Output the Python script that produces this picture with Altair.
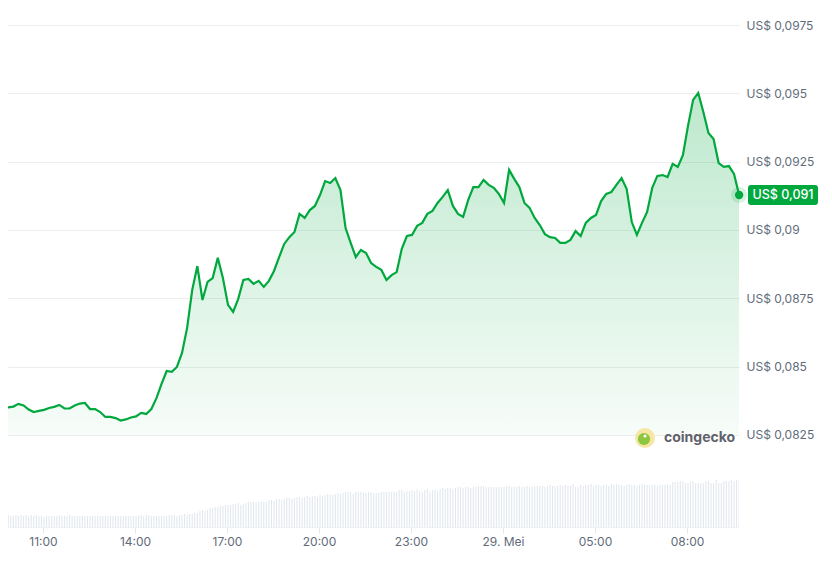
import altair as alt
import pandas as pd

# ---------------- data ----------------
# price every 10 minutes, starting 28 May 09:42
price_start = "2024-05-28 09:42"
price = [
    0.08356, 0.08351, 0.08354, 0.08364, 0.08358, 0.08343, 0.08334, 0.08338, 0.08342, 0.08349,
    0.08353, 0.08360, 0.08347, 0.08347, 0.08358, 0.08365, 0.08367, 0.08345, 0.08345, 0.08334,
    0.08316, 0.08316, 0.08312, 0.08303, 0.08307, 0.08314, 0.08318, 0.08331, 0.08327, 0.08345,
    0.08385, 0.08437, 0.08484, 0.08481, 0.08499, 0.08550, 0.08642, 0.08781, 0.08868, 0.08744,
    0.08810, 0.08824, 0.08898, 0.08824, 0.08726, 0.08700, 0.08748, 0.08817, 0.08821, 0.08803,
    0.08814, 0.08792, 0.08814, 0.08850, 0.08901, 0.08949, 0.08974, 0.08993, 0.09059, 0.09044,
    0.09073, 0.09088, 0.09128, 0.09179, 0.09172, 0.09190, 0.09146, 0.09007, 0.08953, 0.08901,
    0.08927, 0.08916, 0.08879, 0.08865, 0.08854, 0.08817, 0.08835, 0.08846, 0.08931, 0.08978,
    0.08982, 0.09015, 0.09026, 0.09059, 0.09070, 0.09099, 0.09121, 0.09146, 0.09088, 0.09059,
    0.09048, 0.09110, 0.09157, 0.09157, 0.09183, 0.09165, 0.09154, 0.09132, 0.09099, 0.09220,
    0.09187, 0.09157, 0.09099, 0.09081, 0.09044, 0.09018, 0.08985, 0.08974, 0.08971, 0.08953,
    0.08953, 0.08964, 0.08996, 0.08978, 0.09026, 0.09044, 0.09055, 0.09106, 0.09132, 0.09139,
    0.09165, 0.09190, 0.09150, 0.09029, 0.08982, 0.09026, 0.09066, 0.09154, 0.09198, 0.09201,
    0.09194, 0.09242, 0.09231, 0.09274, 0.09381, 0.09476, 0.09501, 0.09432, 0.09355, 0.09333,
    0.09245, 0.09231, 0.09234, 0.09205, 0.09128,
]

# volume bars every 5 minutes, starting 28 May 09:47 (units of 10k US$)
volume_start = "2024-05-28 09:47"
volume = [
    11, 12, 11, 11, 12, 11, 12, 11, 12, 11, 12, 11,
    12, 11, 11, 10, 11, 11, 11, 11, 11, 12, 11, 11,
    11, 12, 11, 11, 11, 11, 11, 11, 11, 11, 11, 11,
    11, 11, 11, 11, 11, 11, 11, 11, 11, 11, 11, 11,
    11, 11, 11, 11, 11, 12, 11, 12, 12, 11, 11, 11,
    11, 11, 11, 11, 12, 12, 12, 11, 12, 12, 13, 12,
    13, 13, 14, 14, 16, 17, 16, 17, 19, 19, 20, 20,
    21, 21, 22, 22, 22, 23, 23, 24, 22, 23, 24, 25,
    25, 25, 25, 25, 26, 25, 25, 27, 27, 26, 28, 28,
    27, 28, 29, 29, 28, 29, 30, 30, 29, 30, 31, 30,
    31, 31, 30, 32, 31, 32, 33, 32, 32, 33, 34, 33,
    34, 35, 35, 35, 33, 35, 35, 35, 34, 34, 35, 35,
    34, 34, 34, 35, 35, 35, 35, 35, 35, 35, 37, 37,
    35, 36, 36, 37, 36, 38, 36, 35, 37, 38, 35, 37,
    37, 36, 38, 39, 38, 39, 39, 38, 39, 40, 40, 39,
    40, 40, 39, 40, 40, 41, 41, 41, 40, 40, 40, 40,
    40, 40, 40, 40, 41, 41, 40, 40, 40, 41, 40, 40,
    41, 40, 40, 41, 41, 41, 41, 40, 41, 42, 41, 41,
    41, 42, 41, 42, 41, 41, 43, 40, 40, 42, 41, 42,
    42, 43, 41, 42, 42, 41, 42, 42, 41, 43, 42, 43,
    42, 42, 41, 42, 43, 42, 42, 41, 42, 43, 42, 42,
    42, 42, 42, 41, 42, 42, 42, 42, 42, 45, 45, 45,
    46, 46, 44, 44, 46, 46, 44, 44, 44, 44, 46, 46,
    44, 44, 47, 44, 44, 46, 46, 46, 47, 46, 47, 47,
]

tick_hours = [11, 14, 17, 20, 23, 26, 29, 32]
tick_labels = ["11:00", "14:00", "17:00", "20:00", "23:00", "29. Mei", "05:00", "08:00"]
price_ticks = [0.0825, 0.085, 0.0875, 0.09, 0.0925, 0.095, 0.0975]

# ---------------- tables ----------------
day0 = pd.Timestamp("2024-05-28")
pt = pd.date_range(price_start, periods=len(price), freq="10min")
df = pd.DataFrame({"h": (pt - day0) / pd.Timedelta(hours=1), "price": price})
df["base"] = price_ticks[0]
last = df.tail(1).copy()
last["label"] = "US$ " + f"{price[-1]:.3f}".replace(".", ",")

vt = pd.date_range(volume_start, periods=len(volume), freq="5min")
vdf = pd.DataFrame({"h": (vt - day0) / pd.Timedelta(hours=1), "vol": volume})

# ---------------- style ----------------
GREEN = "#00a83e"
LABEL = "#5f6b7a"
FONT = "Inter"
W, H = 731, 519

xlabel_expr = "".join(f"datum.value == {h} ? '{l}' : " for h, l in zip(tick_hours, tick_labels)) + "''"
xscale = alt.Scale(domain=[9.859, 33.696], nice=False, zero=False, padding=0)
xaxis = alt.Axis(values=tick_hours, labelExpr=xlabel_expr, grid=False, ticks=True,
                 tickSize=6, tickColor="#e4e7eb", domain=True, domainColor="#eef0f3",
                 labelColor=LABEL, labelFont=FONT, labelFontSize=12, labelPadding=3,
                 title=None)
X = alt.X("h:Q", scale=xscale, axis=xaxis)

yscale = alt.Scale(domain=[0.079134, 0.098122], nice=False, zero=False)
yaxis = alt.Axis(orient="right", values=price_ticks,
                 labelExpr="'US$ ' + replace(format(datum.value, '.4~f'), '.', ',')",
                 grid=True, gridColor="#ededed", ticks=False, domain=False,
                 labelColor=LABEL, labelFont=FONT, labelFontSize=12, labelPadding=7,
                 labelAlign="left", title=None)
Y = alt.Y("price:Q", scale=yscale, axis=yaxis)

gradient = alt.Gradient(
    gradient="linear", x1=0, y1=0, x2=0, y2=1,
    stops=[alt.GradientStop(color="rgba(0,168,62,0.26)", offset=0),
           alt.GradientStop(color="rgba(0,168,62,0.03)", offset=1)],
)

area = alt.Chart(df).mark_area(clip=True, color=gradient).encode(x=X, y=Y, y2="base:Q")
line = alt.Chart(df).mark_line(clip=True, color=GREEN, strokeWidth=2.2).encode(x=X, y=Y)
halo = alt.Chart(last).mark_circle(color=GREEN, opacity=0.15, size=260).encode(x=X, y=Y)
dot = alt.Chart(last).mark_circle(color=GREEN, opacity=1, size=70).encode(x=X, y=Y)

badge_path = ("M-0.914,-0.286 L0.914,-0.286 Q1,-0.286 1,-0.2 L1,0.2 Q1,0.286 0.914,0.286 "
              "L-0.914,0.286 Q-1,0.286 -1,0.2 L-1,-0.2 Q-1,-0.286 -0.914,-0.286 Z")
badge = alt.Chart(last).mark_point(shape=badge_path, size=4900, filled=True, opacity=1,
                                   color=GREEN, strokeWidth=0).encode(
    x=alt.value(W + 44), y=Y)
badge_text = alt.Chart(last).mark_text(color="white", font=FONT, fontSize=12.5,
                                       fontWeight=500, align="center", baseline="middle").encode(
    x=alt.value(W + 44), y=Y, text="label:N")

one = pd.DataFrame({"t": ["coingecko"]})
logo_bg = alt.Chart(one).mark_circle(color="#f7e6a3", opacity=1, size=400).encode(
    x=alt.value(637), y=alt.value(430))
logo_fg = alt.Chart(one).mark_circle(color="#8dc63f", opacity=1, size=150).encode(
    x=alt.value(636), y=alt.value(431))
logo_eye = alt.Chart(one).mark_circle(color="#ffffff", opacity=1, size=10).encode(
    x=alt.value(637), y=alt.value(428))
logo_text = alt.Chart(one).mark_text(font=FONT, fontSize=14, fontWeight="bold",
                                     color="#5f626b", align="left", baseline="middle").encode(
    x=alt.value(656), y=alt.value(430), text="t:N")

price_layer = alt.layer(area, line, halo, dot, badge, badge_text)

vol = alt.Chart(vdf).mark_bar(width=1.1, color="#e3e8ee", clip=True).encode(
    x=X, y=alt.Y("vol:Q", scale=alt.Scale(domain=[0, H]), axis=None))

chart = alt.layer(price_layer, vol, logo_bg, logo_fg, logo_eye, logo_text).resolve_scale(
    y="independent"
).properties(width=W, height=H, padding=0, background="white").configure_view(stroke=None)

chart.save("out.html", embed_options={"renderer": "svg", "actions": False})
